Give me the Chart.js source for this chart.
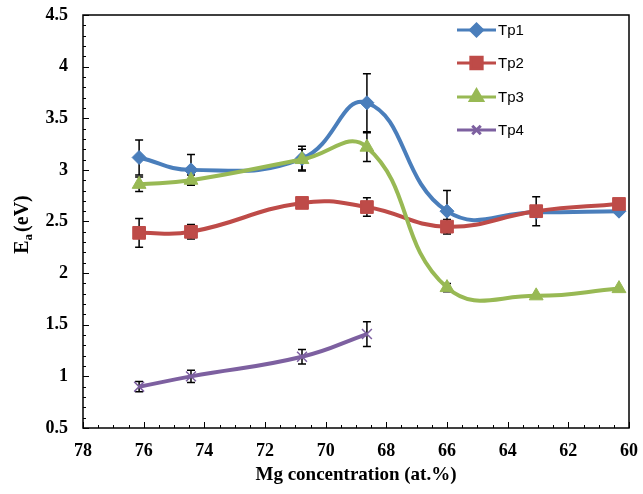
<!DOCTYPE html>
<html>
<head>
<meta charset="utf-8">
<script src="https://cdn.jsdelivr.net/npm/chart.js@4"></script>
<style>
  html, body { margin: 0; padding: 0; background: #fff; }
  #wrap { width: 643px; height: 494px; }
</style>
</head>
<body>
<div id="wrap"><canvas id="ea"></canvas></div>
<script>
const mgConc = [76.15, 74.44, 70.78, 68.64, 66.0, 63.06, 60.33];
const tp1 = [3.12, 3.0, 3.11, 3.65, 2.6, 2.59, 2.6];
const tp2 = [2.39, 2.4, 2.68, 2.64, 2.45, 2.6, 2.67];
const tp3 = [2.86, 2.9, 3.1, 3.22, 1.86, 1.78, 1.85];
const tp4 = [0.9, 1.0, 1.19, 1.41];
const tp1Err = [0.17, 0.15, 0.12, 0.28, 0.2, 0, 0];
const tp2Err = [0.14, 0.07, 0, 0.09, 0.07, 0.14, 0];
const tp3Err = [0.07, 0.05, 0.1, 0.14, 0.04, 0, 0];
const tp4Err = [0.05, 0.06, 0.07, 0.12];
const seriesNames = ["Tp1", "Tp2", "Tp3", "Tp4"];
const yTicks = [0.5, 1, 1.5, 2, 2.5, 3, 3.5, 4, 4.5];
const xTicks = [78, 76, 74, 72, 70, 68, 66, 64, 62, 60];

const colors = ["#4a7ebb", "#be4b48", "#98b954", "#7d60a0"];
const styles = ["rectRot", "rect", "triangle", "crossRot"];
const radii = [7, 9, 8, 7];
const values = [tp1, tp2, tp3, tp4];
const errs = [tp1Err, tp2Err, tp3Err, tp4Err];

const serif = "'Liberation Serif', 'Times New Roman', serif";

function pts(ys) {
  return ys.map((y, i) => ({ x: mgConc[i], y: y }));
}

const datasets = values.map((ys, k) => ({
  label: seriesNames[k],
  data: pts(ys),
  errors: errs[k],
  borderColor: colors[k],
  backgroundColor: colors[k],
  borderWidth: 4,
  tension: 0.45,
  pointStyle: styles[k],
  pointRadius: radii[k],
  pointBorderWidth: k === 3 ? 1.5 : 1,
  pointBorderColor: colors[k],
  order: 4 - k,
}));

// error bars, inward ticks, frame, y title, legend
const extras = {
  id: "extras",
  beforeDatasetsDraw(chart) {
    const ctx = chart.ctx;
    const xs = chart.scales.x, ys = chart.scales.y;
    ctx.save();
    ctx.strokeStyle = "#000";
    ctx.lineWidth = 1.5;
    chart.data.datasets.forEach((ds) => {
      ds.data.forEach((p, i) => {
        const e = ds.errors[i];
        if (!e) return;
        const px = xs.getPixelForValue(p.x);
        const top = ys.getPixelForValue(p.y + e);
        const bot = ys.getPixelForValue(p.y - e);
        ctx.beginPath();
        ctx.moveTo(px, top); ctx.lineTo(px, bot);
        ctx.moveTo(px - 4, top); ctx.lineTo(px + 4, top);
        ctx.moveTo(px - 4, bot); ctx.lineTo(px + 4, bot);
        ctx.stroke();
      });
    });
    ctx.restore();
  },
  afterDraw(chart) {
    const ctx = chart.ctx;
    const a = chart.chartArea;
    const xs = chart.scales.x, ys = chart.scales.y;
    ctx.save();
    ctx.strokeStyle = "#000";
    ctx.lineWidth = 1.5;
    ctx.strokeRect(a.left, a.top, a.right - a.left, a.bottom - a.top);
    ctx.lineWidth = 1;
    ctx.beginPath();
    for (let v = 0.5; v <= 4.5001; v += 0.1) {
      const py = Math.round(ys.getPixelForValue(v)) + 0.5;
      const major = Math.abs(v * 2 - Math.round(v * 2)) < 1e-6;
      ctx.moveTo(a.left, py); ctx.lineTo(a.left + (major ? 6 : 3), py);
    }
    for (let v = 60; v <= 78.001; v += 0.5) {
      const px = Math.round(xs.getPixelForValue(v)) + 0.5;
      const major = Math.abs(v / 2 - Math.round(v / 2)) < 1e-6;
      ctx.moveTo(px, a.bottom); ctx.lineTo(px, a.bottom - (major ? 6 : 3));
    }
    ctx.stroke();

    // y title with subscript
    ctx.translate(21, (a.top + a.bottom) / 2 + 3);
    ctx.rotate(-Math.PI / 2);
    ctx.fillStyle = "#000";
    ctx.textBaseline = "alphabetic";
    const big = "bold 20px " + serif, small = "bold 13px " + serif;
    ctx.font = big; const wE = ctx.measureText("E").width;
    ctx.font = small; const wA = ctx.measureText("a").width;
    ctx.font = big; const wR = ctx.measureText("(eV)").width;
    let x0 = -(wE + wA + 2 + wR) / 2;
    ctx.font = big; ctx.fillText("E", x0, 7);
    ctx.font = small; ctx.fillText("a", x0 + wE, 11);
    ctx.font = big; ctx.fillText("(eV)", x0 + wE + wA + 2, 7);
    ctx.restore();

    // legend
    ctx.save();
    ctx.font = "15px 'Liberation Sans', Arial, sans-serif";
    ctx.textBaseline = "middle";
    const lx = 457, tx = 498, rowY = [30, 63, 97, 130];
    chart.data.datasets.forEach((ds, k) => {
      const y = rowY[k];
      ctx.strokeStyle = colors[k];
      ctx.lineWidth = 3;
      ctx.beginPath(); ctx.moveTo(lx, y); ctx.lineTo(lx + 39, y); ctx.stroke();
      ctx.fillStyle = colors[k];
      Chart.helpers.drawPoint(ctx, { pointStyle: styles[k], radius: radii[k] - 1, borderWidth: 1.5 }, lx + 19.5, y);
      ctx.fillStyle = "#000";
      ctx.fillText(ds.label, tx, y + 1);
    });
    ctx.restore();
  },
};

new Chart(document.getElementById("ea"), {
  type: "line",
  data: { datasets: datasets },
  options: {
    responsive: true,
    maintainAspectRatio: false,
    animation: false,
    layout: { padding: { left: 0, right: 14, top: 15, bottom: 0 } },
    plugins: { legend: { display: false }, tooltip: { enabled: false } },
    scales: {
      x: {
        type: "linear",
        reverse: true,
        min: 60,
        max: 78,
        afterBuildTicks: (s) => { s.ticks = xTicks.map((v) => ({ value: v })); },
        ticks: {
          color: "#000", padding: 13,
          font: { family: serif, size: 18, weight: "bold" },
          callback: (v) => String(v),
        },
        grid: { display: false, drawTicks: false },
        border: { display: false },
        title: {
          display: true,
          text: "Mg concentration (at.%)",
          color: "#000",
          font: { family: serif, size: 19, weight: "bold" },
          padding: { top: 2, bottom: 8 },
        },
        afterFit: (s) => { s.height = 66; s.paddingLeft = 0; s.paddingRight = 0; },
      },
      y: {
        min: 0.5,
        max: 4.5,
        afterBuildTicks: (s) => { s.ticks = yTicks.map((v) => ({ value: v })); },
        ticks: {
          color: "#000", padding: 15,
          font: { family: serif, size: 18, weight: "bold" },
          callback: (v) => String(v),
        },
        grid: { display: false, drawTicks: false },
        border: { display: false },
        afterFit: (s) => { s.width = 83; s.paddingTop = 0; s.paddingBottom = 0; },
      },
    },
  },
  plugins: [extras],
});
</script>
</body>
</html>
